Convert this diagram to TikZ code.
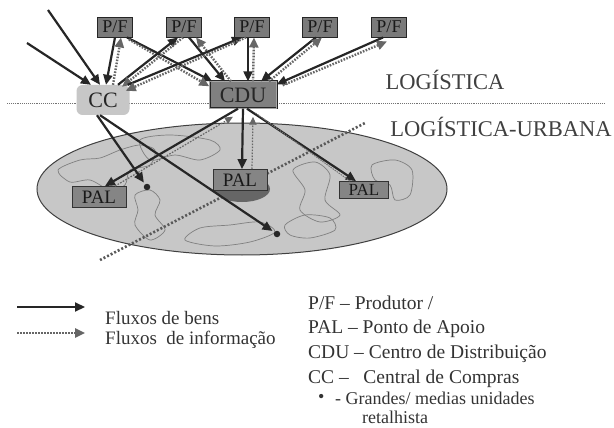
\documentclass[tikz,border=0pt]{standalone}
\usepackage{fontspec}
\setmainfont{Liberation Serif}
\usetikzlibrary{arrows.meta}
\begin{document}
\begin{tikzpicture}[x=1pt,y=-1pt,
  tip/.style={-{Triangle[length=10pt,width=9pt]}},
  goods/.style={tip, draw=black!85, line width=2.2pt},
  info/.style={tip, draw=black!60, line width=2.4pt, dash pattern=on 1.6pt off 1.4pt},
  infothin/.style={draw=black!55, line width=1pt, dash pattern=on 1.5pt off 1pt},
  pfbox/.style={draw=black!85, line width=0.9pt, fill=black!52, minimum width=35pt, minimum height=20pt, inner sep=0pt, text=black!90, font=\fontsize{18}{18}\selectfont},
  ccbox/.style={fill=black!22, rounded corners=6pt, minimum width=53pt, minimum height=30pt, inner sep=0pt, text=black!85, font=\fontsize{22}{22}\selectfont},
  cdubox/.style={draw=black!85, double=black!35, double distance=1.2pt, fill=black!50, minimum width=67pt, minimum height=27pt, inner sep=0pt, text=black!85, font=\fontsize{22}{22}\selectfont},
  palbox/.style={draw=black!80, line width=0.8pt, fill=black!48, minimum width=54pt, minimum height=21pt, inner sep=0pt, text=black!90, font=\fontsize{19}{19}\selectfont},
  dotn/.style={circle, fill=black!85, minimum size=6.5pt, inner sep=0pt},
  title/.style={text=black!75, font=\fontsize{22.5}{22.5}\selectfont},
  leg/.style={anchor=west, inner sep=0pt, text=black!80, font=\fontsize{19.5}{19.5}\selectfont},
  leglast/.style={leg, font=\fontsize{18}{18}\selectfont},
  blob/.style={draw=black!50, line width=0.7pt}
]
\useasboundingbox (0,0) rectangle (614,428);

% separator line
\draw[black!55, line width=0.9pt, densely dotted] (7,103) -- (605,103);

% city ellipse
\draw[draw=black!75, line width=1pt, fill=black!22] (242,189) ellipse [x radius=205pt, y radius=66pt];
% districts
\draw[blob] plot[smooth cycle] coordinates {(58,170)(80,160)(100,158)(120,150)(140,145)(155,150)(150,165)(130,170)(125,185)(110,190)(90,180)(70,182)};
\draw[blob] plot[smooth cycle] coordinates {(140,140)(170,135)(210,140)(220,150)(200,160)(175,155)(150,160)};
\draw[blob] plot[smooth cycle] coordinates {(185,240)(200,228)(230,225)(260,222)(275,232)(250,242)(215,246)};
\draw[blob] plot[smooth cycle] coordinates {(135,195)(150,190)(160,200)(155,215)(165,230)(150,240)(135,225)(138,210)};
\draw[blob] plot[smooth cycle] coordinates {(372,165)(395,160)(412,170)(410,195)(395,200)(390,185)(375,180)};
\draw[blob] plot[smooth cycle] coordinates {(285,225)(305,215)(330,218)(335,230)(310,238)(290,235)};
\draw[blob] plot[smooth cycle] coordinates {(293,170)(315,162)(330,175)(325,200)(340,215)(320,222)(300,210)(305,190)};

% diagonal dotted border
\draw[black!65, line width=2.6pt, dash pattern=on 2pt off 2pt] (100,260) -- (365,123);

% dark area under central PAL
\fill[black!60] (242,189) ellipse [x radius=28pt, y radius=13pt];

% titles
\node[title] (tlog) at (445,80) {LOGÍSTICA};
\node[title] (turb) at (501,127) {LOGÍSTICA-URBANA};

% nodes
\node[pfbox] (pf1) at (115,27) {P/F};
\node[pfbox] (pf2) at (184,27) {P/F};
\node[pfbox] (pf3) at (252,27) {P/F};
\node[pfbox] (pf4) at (320,27) {P/F};
\node[pfbox] (pf5) at (389,27) {P/F};
\node[ccbox] (cc) at (103,100) {CC};
\node[cdubox] (cdu) at (243,95) {CDU};
\node[palbox] (pal1) at (99,197) {PAL};
\node[palbox] (pal2) at (240,180) {PAL};
\node[palbox, minimum width=49pt, minimum height=17pt, font=\fontsize{17}{17}\selectfont] (pal3) at (364,190) {PAL};
\node[dotn] (dot1) at (147,187) {};
\node[dotn] (dot2) at (277,234) {};
\coordinate (in1) at (48,10);
\coordinate (in2) at (27,43);

% incoming to CC
\draw[goods] (in1) -- ([xshift=-3pt]cc.north);
\draw[goods] (in2) -- ([xshift=-12pt]cc.north);
% P/F 1
\draw[goods] (pf1.south) -- ([xshift=3pt]cc.north);
\draw[info] ([xshift=10pt]cc.north) -- ([xshift=6pt]pf1.south);
\draw[goods] ([xshift=12pt]pf1.south) -- ([xshift=3pt]cdu.north west);
\draw[info] ([xshift=14pt,yshift=-2pt]pf1.south) -- ([yshift=-5pt]cdu.north west);
% P/F 2
\draw[goods] ([xshift=15pt]cc.north) -- ([xshift=-6pt]pf2.south);
\draw[info] ([xshift=-1pt]pf2.south) -- ([xshift=19pt,yshift=-2pt]cc.north);
\draw[goods] ([xshift=5pt]pf2.south) -- ([xshift=-18pt]cdu.north);
\draw[info] ([xshift=-12pt]cdu.north) -- ([xshift=12pt]pf2.south);
% P/F 3
\draw[goods] ([xshift=-4pt]pf3.south) -- ([xshift=5pt]cdu.north);
\draw[info] ([xshift=10pt]cdu.north) -- ([xshift=2pt]pf3.south);
\draw[goods] ([xshift=-2pt]cc.north east) -- ([xshift=-10pt]pf3.south);
\draw[info] ([xshift=-6pt]pf3.south) -- ([xshift=-4pt,yshift=-6pt]cc.north east);
% P/F 4
\draw[goods] ([xshift=-4pt]pf4.south) -- ([xshift=18pt]cdu.north);
\draw[info] ([xshift=26pt]cdu.north) -- ([xshift=2pt]pf4.south);
% P/F 5
\draw[goods] ([xshift=-6pt]pf5.south) -- ([yshift=-3pt]cdu.north east);
\draw[info] ([xshift=6pt,yshift=-4pt]cdu.north east) -- ([xshift=-2pt,yshift=-4pt]pf5.south);

% urban flows
\draw[goods] ([xshift=-5pt]cdu.south) -- ([xshift=6pt]pal1.north);
\draw[info, line width=1.2pt, -{Triangle[length=8pt,width=7pt]}] ([xshift=16pt]pal1.north) -- ([xshift=-10pt,yshift=-8pt]cdu.south);
\draw[goods] (cdu.south) -- ([xshift=2pt]pal2.north);
\draw[info, line width=1.2pt, -{Triangle[length=8pt,width=7pt]}] ([xshift=12pt]pal2.north) -- ([xshift=10pt,yshift=-8pt]cdu.south);
\draw[goods] ([xshift=4pt]cdu.south) -- ([xshift=-8pt]pal3.north);
\draw[infothin] ([xshift=-14pt]pal3.north) -- ([xshift=12pt,yshift=-4pt]cdu.south);
\draw[goods, shorten >=2pt] ([xshift=-6pt]cc.south) -- (dot1);
\draw[goods, shorten >=2pt] ([xshift=-3pt]cc.south) -- (dot2);

% legend
\coordinate (ls1) at (17,307);
\coordinate (le1) at (85,307);
\coordinate (ls2) at (17,333);
\coordinate (le2) at (85,333);
\draw[goods] (ls1) -- (le1);
\draw[info] (ls2) -- (le2);
\node[leg, font=\fontsize{19}{19}\selectfont] (l1) at (105,318) {Fluxos de bens};
\node[leg, font=\fontsize{19}{19}\selectfont] (l2) at (105,340) {Fluxos\ \ de informação};
\node[leg] (r1) at (308,303) {P/F -- Produtor /};
\node[leg] (r2) at (308,329) {PAL -- Ponto de Apoio};
\node[leg] (r3) at (308,354) {CDU -- Centro de Distribuição};
\node[leg] (r4) at (308,379) {CC --\ \ \ Central de Compras};
\node[leglast] (r5) at (318,398) {\textbullet};
\node[leglast] (r6) at (335,398) {- Grandes/ medias unidades};
\node[leglast] (r7) at (362,417) {retalhista};
\end{tikzpicture}
\end{document}
